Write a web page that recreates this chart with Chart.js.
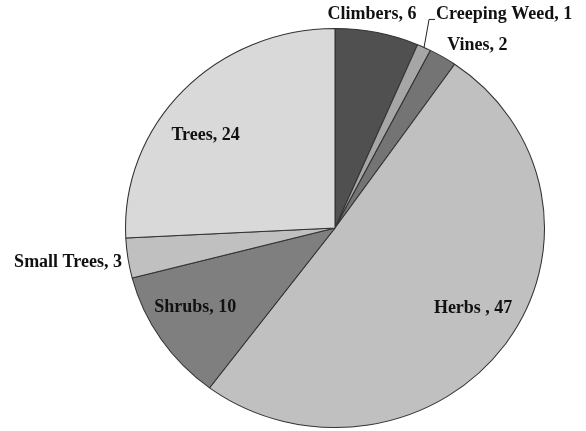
<!DOCTYPE html>
<html>
<head>
<meta charset="utf-8">
<script src="https://cdn.jsdelivr.net/npm/chart.js@4/dist/chart.umd.min.js"></script>
<style>
  html, body { margin: 0; padding: 0; background: #ffffff; }
  #wrap { width: 586px; height: 431px; }
</style>
</head>
<body>
<div id="wrap"><canvas id="pie" width="586" height="431"></canvas></div>
<script>
// Plant habit counts
const categories = ["Climbers", "Creeping Weed", "Vines", "Herbs", "Shrubs", "Small Trees", "Trees"];
const counts = [6, 1, 2, 47, 10, 3, 24];
const sliceColors = ["#505050", "#a6a6a6", "#747474", "#c0c0c0", "#7f7f7f", "#c0c0c0", "#d9d9d9"];

// Label layout: radial factor k along the slice's mid angle, then a small nudge
const labelLayout = [
  { k: 1.09, dx: -9, dy: -1, align: "center", sep: ", " },
  { k: 1.00, dx: 0,  dy: 0,  align: "left",   sep: ", ", leader: true },
  { k: 1.08, dx: 26, dy: 2,  align: "center", sep: ", " },
  { k: 0.66, dx: 26, dy: 3,  align: "center", sep: " , " },
  { k: 0.78, dx: -4, dy: -7, align: "center", sep: ", " },
  { k: 1.00, dx: -6, dy: 4,  align: "right",  sep: ", " },
  { k: 0.80, dx: -8, dy: 17, align: "center", sep: ", " }
];

const STRETCH_X = 1.05; // pie is drawn slightly wider than tall

const stretchPlugin = {
  id: "stretch",
  beforeDatasetsDraw(chart) {
    const arc = chart.getDatasetMeta(0).data[0];
    const ctx = chart.ctx;
    ctx.save();
    ctx.translate(arc.x, arc.y);
    ctx.scale(STRETCH_X, 1);
    ctx.translate(-arc.x, -arc.y);
  },
  afterDatasetsDraw(chart) {
    chart.ctx.restore();
  }
};

const labelPlugin = {
  id: "sliceLabels",
  afterDraw(chart) {
    const ctx = chart.ctx;
    const arcs = chart.getDatasetMeta(0).data;
    ctx.save();
    ctx.font = "bold 18px 'Liberation Serif', 'Times New Roman', serif";
    ctx.fillStyle = "#111111";
    ctx.textBaseline = "middle";
    arcs.forEach((arc, i) => {
      const lay = labelLayout[i];
      const mid = (arc.startAngle + arc.endAngle) / 2;
      const r = arc.outerRadius;
      const px = arc.x + Math.cos(mid) * r * lay.k * STRETCH_X;
      const py = arc.y + Math.sin(mid) * r * lay.k;
      const text = categories[i] + lay.sep + counts[i];
      if (lay.leader) {
        const ex = px + 5, ey = py - 28;
        ctx.strokeStyle = "#222222";
        ctx.lineWidth = 1;
        ctx.beginPath();
        ctx.moveTo(px, py);
        ctx.lineTo(ex, ey);
        ctx.lineTo(ex + 6, ey);
        ctx.stroke();
        ctx.textAlign = "left";
        ctx.fillText(text, ex + 7, ey - 5);
      } else {
        ctx.textAlign = lay.align;
        ctx.fillText(text, px + lay.dx, py + lay.dy);
      }
    });
    ctx.restore();
  }
};

new Chart(document.getElementById("pie"), {
  type: "pie",
  data: {
    labels: categories,
    datasets: [{
      data: counts,
      backgroundColor: sliceColors,
      borderColor: "#333333",
      borderWidth: 1
    }]
  },
  options: {
    responsive: false,
    animation: false,
    layout: { padding: { left: 135, right: 51, top: 28, bottom: 3 } },
    plugins: {
      legend: { display: false },
      tooltip: { enabled: false }
    }
  },
  plugins: [stretchPlugin, labelPlugin]
});
</script>
</body>
</html>
